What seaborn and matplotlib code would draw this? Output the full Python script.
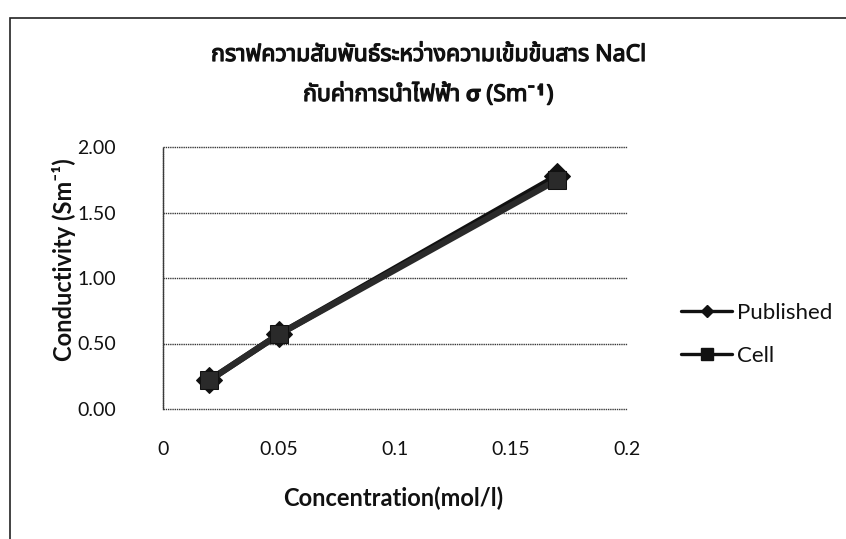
import matplotlib
matplotlib.use("Agg")
import matplotlib.pyplot as plt
import matplotlib.patheffects as pe
import seaborn as sns
import pandas as pd
from matplotlib.patches import Rectangle
from matplotlib.lines import Line2D

concentration = [0.02, 0.05, 0.17]
published = [0.22, 0.57, 1.78]
cell = [0.22, 0.57, 1.75]
x_ticks = [0, 0.05, 0.1, 0.15, 0.2]
x_tick_labels = ["0", "0.05", "0.1", "0.15", "0.2"]
y_ticks = [0.0, 0.5, 1.0, 1.5, 2.0]
series_names = ["Published", "Cell"]
title_lines = ["กราฟความสัมพันธ์ระหว่างความเข้มข้นสาร NaCl", "กับค่าการนำไฟฟ้า σ (Sm⁻¹)"]

sns.set_theme(style="white")
plt.rcParams["font.family"] = ["Lato", "DejaVu Sans", "Noto Sans"]
title_family = ["Noto Sans Thai", "Loma", "Garuda", "Tlwg Typo", "Lato", "DejaVu Sans"]
ink = "#111111"

df = pd.concat([
    pd.DataFrame({"Concentration": concentration, "Conductivity": published, "Series": series_names[0]}),
    pd.DataFrame({"Concentration": concentration, "Conductivity": cell, "Series": series_names[1]}),
])

fig = plt.figure(figsize=(8.46, 5.39), dpi=100)
ax = fig.add_axes([163 / 846, 1 - 409 / 539, (627 - 163) / 846, (409 - 147) / 539])

for y in y_ticks:
    ax.axhline(y, color="#3a3a3a", lw=1.0, ls=(0, (1, 0.6)), zorder=0, clip_on=False)

sns.lineplot(data=df, x="Concentration", y="Conductivity", hue="Series", style="Series",
             markers={"Published": "D", "Cell": "s"}, dashes=False,
             palette={"Published": ink, "Cell": "#2a2a2a"},
             markersize=13, linewidth=4.5, markeredgecolor=ink, ax=ax, legend=False)

ax.set_xlim(0, 0.2)
ax.set_ylim(0, 2.0)
ax.set_xticks(x_ticks)
ax.set_xticklabels(x_tick_labels)
ax.set_yticks(y_ticks)
ax.set_yticklabels([f"{v:.2f}" for v in y_ticks])
ax.tick_params(axis="both", length=0, labelsize=14, colors=ink)
ax.tick_params(axis="x", pad=23)
ax.tick_params(axis="y", pad=34)
for s in ["top", "right", "bottom"]:
    ax.spines[s].set_visible(False)
ax.spines["left"].set_color("#3a3a3a")
ax.spines["left"].set_linewidth(1.0)
ax.spines["left"].set_linestyle((0, (1, 0.6)))

ax.set_xlabel("Concentration(mol/l)", fontsize=17, fontweight="bold", color=ink)
ax.set_ylabel("Conductivity (Sm⁻¹)", fontsize=17, fontweight="bold", color=ink)
ax.xaxis.set_label_coords(0.496, -0.295)
ax.yaxis.set_label_coords(-0.187, 0.569)

for line, ypix in zip(title_lines, [55, 95]):
    fig.text(428 / 846, 1 - ypix / 539, line, ha="center", va="center", fontsize=16.6,
             fontweight="bold", family=title_family, color=ink,
             path_effects=[pe.withStroke(linewidth=0.9, foreground=ink)])

handles = [
    Line2D([], [], color=ink, lw=2.4, marker="D", markersize=6.5),
    Line2D([], [], color=ink, lw=2.4, marker="s", markersize=9),
]
fig.legend(handles, series_names, loc="center left", bbox_to_anchor=(661 / 846, 1 - 334.5 / 539),
           frameon=False, fontsize=16, handlelength=2.3, handletextpad=0.2, labelspacing=1.05,
           labelcolor=ink)

fig.patches.append(Rectangle((10 / 846, -0.05), 1.0, 1 - 18 / 539 + 0.05, transform=fig.transFigure,
                             fill=False, edgecolor="#222222", lw=1.2))

fig.savefig("out.png", dpi=100)
